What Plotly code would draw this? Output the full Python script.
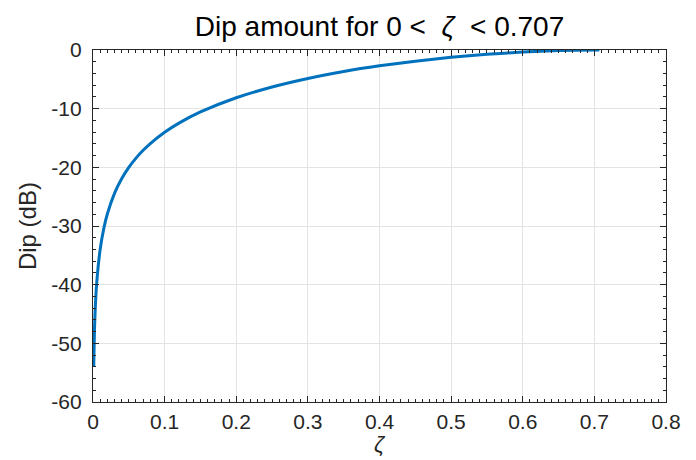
import plotly.graph_objects as go

zeta = [0.001, 0.002, 0.003, 0.005, 0.01, 0.015, 0.02, 0.03, 0.04, 0.05, 0.06, 0.07, 0.08,
        0.1, 0.12, 0.15, 0.2, 0.25, 0.3, 0.35, 0.4, 0.45, 0.5, 0.55, 0.6, 0.65, 0.7, 0.707]
dip_db = [-53.98, -47.96, -44.44, -40.0, -33.98, -30.46, -27.96, -24.44, -21.95, -20.01, -18.43,
          -17.10, -15.94, -14.02, -12.46, -10.56, -8.14, -6.30, -4.85, -3.67, -2.70, -1.90,
          -1.25, -0.74, -0.35, -0.106, -0.002, 0.0]

x_ticks = [0, 0.1, 0.2, 0.3, 0.4, 0.5, 0.6, 0.7, 0.8]
x_labels = ["0", "0.1", "0.2", "0.3", "0.4", "0.5", "0.6", "0.7", "0.8"]
y_ticks = [-60, -50, -40, -30, -20, -10, 0]
y_labels = ["-60", "-50", "-40", "-30", "-20", "-10", "0"]

font = "Liberation Sans, Arial, sans-serif"
axc = "#262626"

fig = go.Figure()
fig.add_trace(go.Scatter(x=zeta, y=dip_db, mode="lines",
                         line=dict(color="#0072BD", width=3, shape="spline", smoothing=0.6),
                         showlegend=False, hoverinfo="skip"))

axis_common = dict(showline=True, linecolor=axc, linewidth=1.3, mirror="ticks",
                   ticks="inside", ticklen=6, tickwidth=1.3, tickcolor=axc,
                   showgrid=True, gridcolor="#E3E3E3", gridwidth=1, zeroline=False,
                   automargin=False,
                   tickfont=dict(family=font, size=21, color=axc))

fig.update_layout(
    width=696, height=460,
    paper_bgcolor="white", plot_bgcolor="white",
    margin=dict(l=93, r=30, t=50, b=58),
    title=dict(text="Dip amount for 0 <  <i>ζ</i>  < 0.707", x=0.5, xanchor="center",
               y=0.942, yanchor="middle", xref="paper", automargin=False,
               font=dict(family=font, size=28, color="#000000")),
    xaxis=dict(range=[0, 0.8], tickvals=x_ticks, ticktext=x_labels, ticklabelstandoff=1,
               minor=dict(ticks="inside", dtick=0.01, ticklen=3, tickwidth=1.1, tickcolor=axc, showgrid=False),
               **axis_common),
    yaxis=dict(range=[-60, 0], tickvals=y_ticks, ticktext=y_labels, ticklabelstandoff=6,
               minor=dict(ticks="inside", dtick=2, ticklen=3, tickwidth=1.1, tickcolor=axc, showgrid=False),
               **axis_common),
    annotations=[
        dict(text="<i>ζ</i>", xref="paper", yref="paper", x=0.5, y=-0.122,
             xanchor="center", yanchor="middle", showarrow=False,
             font=dict(family=font, size=22, color=axc)),
        dict(text="Dip (dB)", xref="paper", yref="paper", x=-0.115, y=0.5,
             xanchor="center", yanchor="middle", showarrow=False, textangle=-90,
             font=dict(family=font, size=24, color=axc)),
    ],
)

fig.write_html("out.html")
